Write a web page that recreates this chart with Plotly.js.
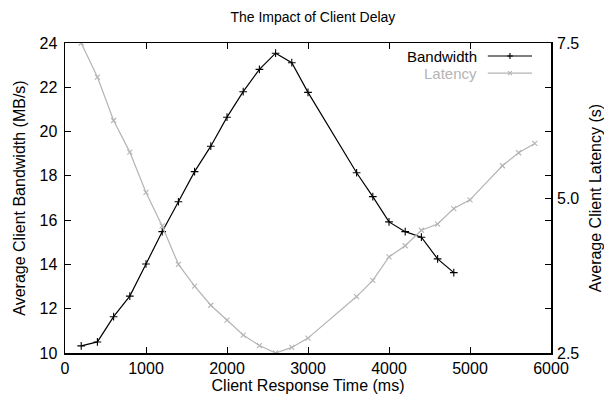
<!DOCTYPE html>
<html>
<head>
<meta charset="utf-8">
<script src="https://cdn.plot.ly/plotly-3.0.1.min.js"></script>
<style>html,body{margin:0;padding:0;background:#fff;}#chart{width:604px;height:402px;}</style>
</head>
<body>
<div id="chart"></div>
<script>
const bwX = [200, 400, 600, 800, 1000, 1200, 1400, 1600, 1800, 2000, 2200, 2400, 2600, 2800, 3000, 3600, 3800, 4000, 4200, 4400, 4600, 4800];
const bwY = [10.32, 10.50, 11.64, 12.57, 14.02, 15.48, 16.83, 18.19, 19.34, 20.65, 21.80, 22.81, 23.54, 23.11, 21.77, 18.14, 17.06, 15.92, 15.48, 15.23, 14.25, 13.63];
const latX = [200, 400, 600, 800, 1000, 1200, 1400, 1600, 1800, 2000, 2200, 2400, 2600, 2800, 3000, 3600, 3800, 4000, 4200, 4400, 4600, 4800, 5000, 5400, 5600, 5800];
const latY = [7.50, 6.95, 6.25, 5.74, 5.09, 4.55, 3.93, 3.58, 3.27, 3.03, 2.79, 2.62, 2.50, 2.59, 2.74, 3.41, 3.67, 4.05, 4.23, 4.48, 4.58, 4.83, 4.97, 5.52, 5.73, 5.88];
const y2TickVals = [2.5, 5.0, 7.5];
const y2TickText = ['2.5', '5.0', '7.5'];
const seriesNames = ['Bandwidth', 'Latency'];

const black = '#000000';
const gray = '#b4b4b4';
const font = 'Liberation Sans, Arial, sans-serif';

const traces = [
  {x: bwX, y: bwY, name: seriesNames[0], type: 'scatter', mode: 'lines+markers',
   line: {color: black, width: 1.2},
   marker: {symbol: 'cross-thin-open', size: 5.5, color: black, line: {color: black, width: 1.1}}},
  {x: latX, y: latY, name: seriesNames[1], type: 'scatter', mode: 'lines+markers', yaxis: 'y2',
   line: {color: gray, width: 1.2},
   marker: {symbol: 'x-thin-open', size: 5, color: gray, line: {color: gray, width: 1.1}}}
];

// custom legend (sample on the right of the text, like the original)
const legY = [0.958, 0.903];
const legColors = [black, gray];
const legSym = ['M-3,0L3,0M0,-3L0,3', 'M-2,-2L2,2M-2,2L2,-2'];
const shapes = [];
const annotations = [];
for (let i = 0; i < 2; i++) {
  shapes.push({type: 'line', xref: 'paper', yref: 'paper', x0: 0.870, x1: 0.961, y0: legY[i], y1: legY[i],
               line: {color: legColors[i], width: 1.2}});
  shapes.push({type: 'path', xref: 'paper', yref: 'paper', xsizemode: 'pixel', ysizemode: 'pixel',
               xanchor: 0.9155, yanchor: legY[i], path: legSym[i], line: {color: legColors[i], width: 1.1}});
  annotations.push({xref: 'paper', yref: 'paper', x: 0.852, y: legY[i], xanchor: 'right', yanchor: 'middle',
                    text: seriesNames[i], showarrow: false, font: {family: font, size: 15, color: legColors[i]}});
}

const layout = {
  width: 604, height: 402,
  margin: {l: 65, r: 53, t: 43, b: 49},
  paper_bgcolor: '#fff', plot_bgcolor: '#fff',
  showlegend: false,
  font: {family: font, size: 16, color: '#000'},
  title: {text: 'The Impact of Client Delay', font: {family: font, size: 14, color: '#000'}, x: 0.518, xanchor: 'center', y: 0.958, yanchor: 'middle'},
  xaxis: {range: [0, 6000], tickvals: [0, 1000, 2000, 3000, 4000, 5000, 6000], ticks: 'inside', ticklen: 6,
          tickcolor: '#000', showline: true, linecolor: '#000', linewidth: 1.5, mirror: 'ticks', showgrid: false, zeroline: false,
          title: {text: 'Client Response Time (ms)', font: {size: 16}, standoff: 3}, tickfont: {size: 16}},
  yaxis: {range: [10, 24], tickvals: [10, 12, 14, 16, 18, 20, 22, 24], ticks: 'inside', ticklen: 6,
          tickcolor: '#000', showline: true, linecolor: '#000', linewidth: 1.5, mirror: 'ticks', showgrid: false, zeroline: false,
          ticklabelstandoff: 3,
          title: {text: 'Average Client Bandwidth (MB/s)', font: {size: 16}, standoff: 10}, tickfont: {size: 16}},
  yaxis2: {range: [2.5, 7.5], overlaying: 'y', side: 'right', tickvals: y2TickVals, ticktext: y2TickText,
           ticks: 'inside', ticklen: 6, tickcolor: '#000', showline: false, showgrid: false, zeroline: false,
           ticklabelstandoff: 5,
           title: {text: 'Average Client Latency (s)', font: {size: 16}, standoff: 16}, tickfont: {size: 16}},
  shapes: shapes,
  annotations: annotations
};

Plotly.newPlot('chart', traces, layout, {staticPlot: true, displayModeBar: false});
</script>
</body>
</html>
